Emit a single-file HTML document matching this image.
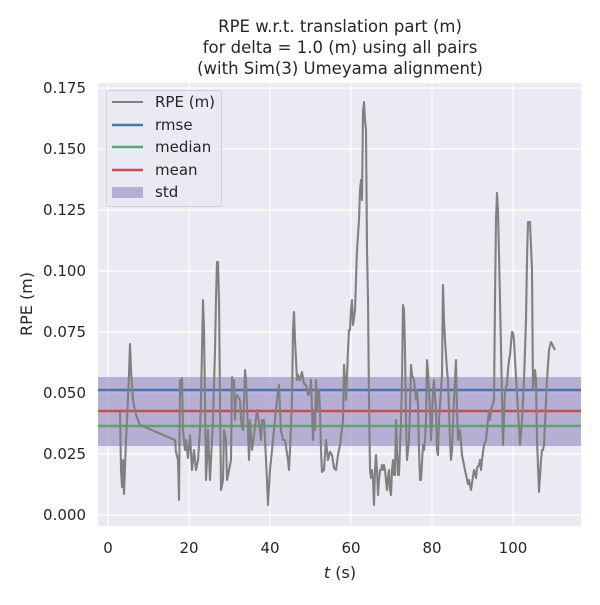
<!DOCTYPE html>
<html><head><meta charset="utf-8"><style>
html,body{margin:0;padding:0;background:#fff;}
svg text{font-family:"DejaVu Sans","Liberation Sans",sans-serif;fill:#262626;}
</style></head><body>
<svg width="600" height="600" viewBox="0 0 600 600" xmlns="http://www.w3.org/2000/svg">
<rect width="600" height="600" fill="#fff"/>
<rect x="98" y="83" width="483" height="443" fill="#eaeaf2"/>
<g stroke="#fff" stroke-width="1.2">
<line x1="108" y1="83" x2="108" y2="526"/><line x1="189" y1="83" x2="189" y2="526"/><line x1="270" y1="83" x2="270" y2="526"/><line x1="351" y1="83" x2="351" y2="526"/><line x1="432" y1="83" x2="432" y2="526"/><line x1="513" y1="83" x2="513" y2="526"/>
<line x1="98" y1="515" x2="581" y2="515"/><line x1="98" y1="454" x2="581" y2="454"/><line x1="98" y1="393" x2="581" y2="393"/><line x1="98" y1="332" x2="581" y2="332"/><line x1="98" y1="271" x2="581" y2="271"/><line x1="98" y1="210" x2="581" y2="210"/><line x1="98" y1="149" x2="581" y2="149"/><line x1="98" y1="88" x2="581" y2="88"/>
</g>
<rect x="98" y="377" width="483" height="69" fill="#8172b3" fill-opacity="0.5"/>
<line x1="98" y1="390" x2="581" y2="390" stroke="#4c72b0" stroke-width="2.5"/>
<line x1="98" y1="411" x2="581" y2="411" stroke="#c44e52" stroke-width="2.5"/>
<line x1="98" y1="426" x2="581" y2="426" stroke="#55a868" stroke-width="2.5"/>
<polyline fill="none" stroke="#808080" stroke-width="2.1" stroke-linejoin="round" points="120,412 121,470 122,487 123,460 124,494 126,440 127,420 129,375 130,344 131,370 133,400 136,415 140,425 175,440 176,452 178,460 179,500 180,380 181,395 182,378 183,430 185,450 186,440 188,458 190,435 192,470 194,450 196,470 198,460 200,430 201,400 202,350 203,300 204,330 205,400 206,480 207,460 208,430 210,480 211,460 213,420 215,350 216,300 217,262 218,262 219,300 220,400 221,490 223,480 224,430 226,440 227,480 229,470 231,460 232,377 233,390 234,380 235,420 236,398 237,395 240,400 241,420 243,430 245,370 246,380 248,430 249,460 250,420 252,450 254,435 257,410 260,430 261,440 262,420 264,420 265,440 267,480 268,505 270,470 272,450 274,430 277,400 279,385 280,410 281,430 283,440 285,440 288,460 289,470 290,450 292,400 293,330 294,312 295,340 297,380 298,375 300,380 302,372 304,384 306,385 308,395 310,392 311,380 313,440 314,410 315,430 316,380 317,410 319,390 320,410 321,450 322,472 324,470 326,440 328,460 330,452 332,455 334,468 336,470 338,455 340,445 343,420 344,365 345,380 346,400 348,350 349,330 350,330 351,310 352,300 353,325 355,310 356,280 357,250 359,220 360,190 361,180 362,200 363,112 364,102 365,120 366,130 367,250 368,300 369,400 370,470 371,478 372,470 373,480 374,505 375,470 376,455 377,470 378,495 379,480 380,470 381,470 382,465 383,470 384,465 385,470 386,480 387,490 388,478 389,470 390,490 391,495 392,470 393,460 394,475 395,475 396,420 398,475 399,475 401,420 402,380 403,305 404,310 405,350 406,420 407,460 409,440 410,410 411,365 412,375 414,380 416,400 417,390 418,405 419,450 420,480 421,480 423,445 424,450 425,440 426,420 427,360 428,372 430,410 431,440 432,420 433,390 434,380 436,410 437,450 438,455 439,420 442,375 443,285 444,320 445,340 446,355 447,370 448,380 450,440 451,460 452,450 454,400 456,360 457,410 458,440 460,430 462,455 465,470 468,484 469,480 471,490 474,470 476,478 477,468 479,465 480,460 481,470 482,460 484,445 486,440 489,410 490,420 491,410 494,400 495,300 496,220 497,193 498,210 500,300 503,445 505,390 507,385 508,370 509,360 510,355 512,332 513,333 514,340 515,360 518,410 520,445 522,420 524,380 526,320 527,260 528,222 530,222 532,270 533,390 535,370 536,380 537,440 539,492 541,460 542,450 543,450 544,445 547,380 549,350 551,342 555,350"/>
<g font-size="15" text-anchor="end">
<text x="86" y="520">0.000</text><text x="86" y="459">0.025</text><text x="86" y="398">0.050</text><text x="86" y="337">0.075</text><text x="86" y="276">0.100</text><text x="86" y="215">0.125</text><text x="86" y="154">0.150</text><text x="86" y="93">0.175</text>
</g>
<g font-size="15" text-anchor="middle">
<text x="108" y="553">0</text><text x="189" y="553">20</text><text x="270" y="553">40</text><text x="351" y="553">60</text><text x="432" y="553">80</text><text x="513" y="553">100</text>
<text x="340" y="578" font-size="16"><tspan font-style="italic">t</tspan> (s)</text>
<text x="340" y="32" font-size="16.5">RPE w.r.t. translation part (m)</text>
<text x="340" y="53" font-size="16.5">for delta = 1.0 (m) using all pairs</text>
<text x="340" y="74" font-size="16.5">(with Sim(3) Umeyama alignment)</text>
</g>
<text transform="translate(32,304) rotate(-90)" font-size="16" text-anchor="middle">RPE (m)</text>
<rect x="106.5" y="90.5" width="115" height="116" rx="3" fill="#eaeaf2" fill-opacity="0.8" stroke="#d0d0d8"/>
<line x1="112" y1="102" x2="143" y2="102" stroke="#808080" stroke-width="2"/>
<line x1="112" y1="125" x2="143" y2="125" stroke="#4c72b0" stroke-width="2.5"/>
<line x1="112" y1="147" x2="143" y2="147" stroke="#55a868" stroke-width="2.5"/>
<line x1="112" y1="170" x2="143" y2="170" stroke="#c44e52" stroke-width="2.5"/>
<rect x="112" y="187" width="31" height="11" fill="#8172b3" fill-opacity="0.5"/>
<g font-size="15"><text x="155" y="107">RPE (m)</text><text x="155" y="130">rmse</text><text x="155" y="152">median</text><text x="155" y="175">mean</text><text x="155" y="197">std</text></g>
</svg>
</body></html>
